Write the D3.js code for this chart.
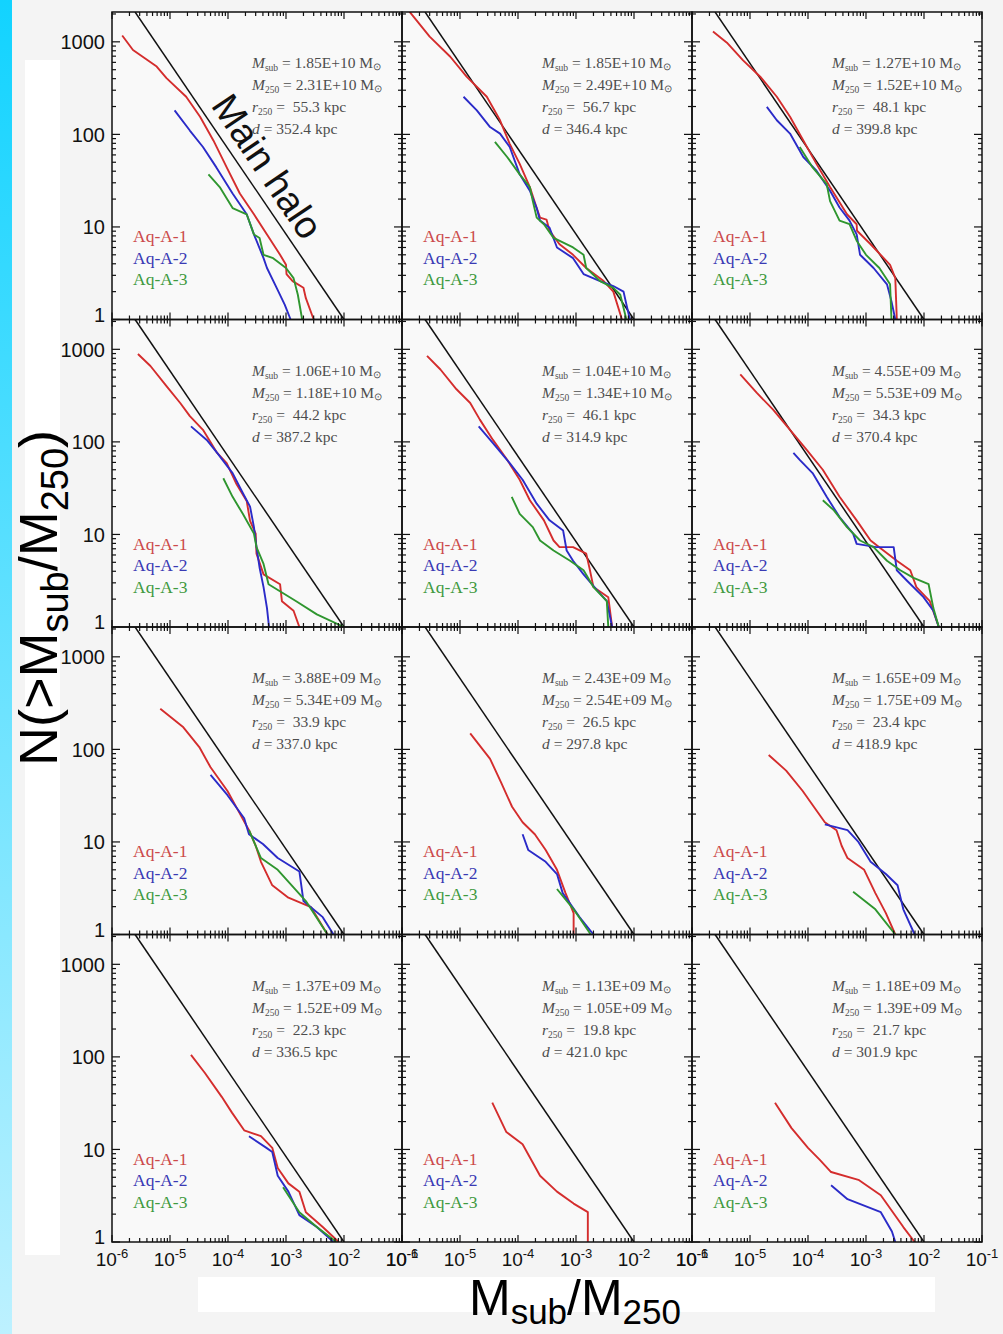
<!DOCTYPE html>
<html>
<head>
<meta charset="utf-8">
<script src="https://cdn.jsdelivr.net/npm/d3@7"></script>
<style>
  body { margin: 0; background: #f4f4f4; }
  svg { display: block; }
  text { white-space: pre; }
</style>
</head>
<body>
<svg id="chart" width="1003" height="1334"></svg>
<script>
// Cumulative subhalo mass functions N(>Msub/M250) of twelve subhaloes,
// at three resolution levels, with the main-halo relation for reference.

const msubLabels = ["1.85E+10","1.85E+10","1.27E+10","1.06E+10","1.04E+10","4.55E+09",
                    "3.88E+09","2.43E+09","1.65E+09","1.37E+09","1.13E+09","1.18E+09"];
const m250Labels = ["2.31E+10","2.49E+10","1.52E+10","1.18E+10","1.34E+10","5.53E+09",
                    "5.34E+09","2.54E+09","1.75E+09","1.52E+09","1.05E+09","1.39E+09"];
const r250Labels = ["55.3","56.7","48.1","44.2","46.1","34.3","33.9","26.5","23.4","22.3","19.8","21.7"];
const distLabels = ["352.4","346.4","399.8","387.2","314.9","370.4","337.0","297.8","418.9","336.5","421.0","301.9"];

const seriesNames = ["Aq-A-1", "Aq-A-2", "Aq-A-3"];

const xTickValues = [1e-6, 1e-5, 1e-4, 1e-3, 1e-2, 1e-1];
const xTickExponents = ["-6", "-5", "-4", "-3", "-2", "-1"];
const yTickValues = [1, 10, 100, 1000];

// main halo: N(>Msub/M250) power law
const mainHalo = [[2.5e-6, 2100], [1.0e-2, 1]];

// [Msub/M250, N] per panel, Aq-A-1
const aqA1 = [
  [[1.5e-6,1170],[2.3e-6,815],[5.9e-6,540],[8.7e-6,405],[1.9e-5,255],[3.3e-5,155],[5.6e-5,86],[9.5e-5,44],[1.6e-4,23],[2.8e-4,13.7],[4.7e-4,8.3],[7.9e-4,5.0],[1.0e-3,3.9],[1.02e-3,3.1],[1.3e-3,2.6],[2.0e-3,2.2],[2.2e-3,1.7],[3.0e-3,1]],
  [[1.25e-6,2300],[1.4e-6,2050],[3.0e-6,1140],[6.8e-6,690],[1.3e-5,420],[2.9e-5,255],[4.9e-5,142],[7.2e-5,79],[1.07e-4,48],[1.6e-4,27],[2.1e-4,16],[2.4e-4,12.6],[3.1e-4,12],[3.5e-4,9.1],[5.2e-4,6.5],[8.9e-4,5.0],[1.5e-3,3.6],[3.0e-3,2.6],[4.4e-3,2.0],[6.2e-3,1]],
  [[2.3e-6,1290],[4.0e-6,980],[7.6e-6,630],[1.5e-5,420],[2.9e-5,255],[4.9e-5,155],[8.3e-5,86],[1.4e-4,48],[2.4e-4,27],[4.7e-4,13.7],[6.9e-4,10.7],[7.0e-4,9.1],[1.2e-3,6.5],[2.6e-3,3.9],[3.2e-3,2.8],[3.4e-3,1]],
  [[2.8e-6,890],[4.6e-6,660],[8.7e-6,400],[1.5e-5,263],[2.2e-5,190],[3.7e-5,135],[6.5e-5,76],[9.5e-5,59],[1.4e-4,35],[2.1e-4,23],[2.4e-4,14],[3.0e-4,10.2],[3.1e-4,6.2],[4.1e-4,3.7],[7.9e-4,2.9],[8.5e-4,1.9],[1.35e-3,1.5],[1.7e-3,1]],
  [[2.7e-6,850],[4.6e-6,605],[8.7e-6,370],[1.5e-5,263],[2.2e-5,174],[3.7e-5,105],[6.5e-5,64],[1.07e-4,39],[1.6e-4,23.4],[2.8e-4,14.2],[4.1e-4,8.6],[5.2e-4,7.3],[8.9e-4,7.3],[1.5e-3,6.2],[1.7e-3,4.4],[2.0e-3,2.7],[3.6e-3,2.1],[4.2e-3,1]],
  [[6.8e-6,535],[1.3e-5,340],[2.5e-5,223],[4.9e-5,135],[9.5e-5,82],[1.8e-4,50],[3.5e-4,25.5],[6.9e-4,14.2],[1.2e-3,8.6],[2.0e-3,6.7],[3.4e-3,5.2],[5.8e-3,4.1],[7.4e-3,2.7],[1.26e-2,1.9],[1.8e-2,1]],
  [[6.8e-6,275],[1.7e-5,173],[3.2e-5,106],[5.0e-5,64],[9.8e-5,35.5],[1.5e-4,21.8],[2.3e-4,13.4],[3.0e-4,9.1],[3.7e-4,6.1],[5.8e-4,3.4],[1.1e-3,2.5],[2.7e-3,1.97],[5.2e-3,1]],
  [[1.5e-5,149],[3.3e-5,79],[5.1e-5,44],[7.9e-5,24],[1.2e-4,16.3],[1.95e-4,12.1],[3.0e-4,8.2],[4.7e-4,5.0],[6.6e-4,2.8],[9.1e-4,1.7],[9.1e-4,1]],
  [[2.1e-5,87],[4.2e-5,59],[8.1e-5,35.5],[1.26e-4,24],[1.95e-4,16.3],[3.1e-4,13.4],[3.8e-4,9.1],[4.8e-4,6.7],[9.3e-4,5.0],[1.45e-3,2.8],[2.2e-3,1.7],[3.2e-3,1]],
  [[2.3e-5,105],[4.0e-5,67],[7.8e-5,37],[1.17e-4,25],[1.9e-4,16.1],[3.7e-4,13.9],[5.8e-4,10.4],[7.2e-4,6.3],[1.1e-3,4.3],[1.7e-3,3.5],[2.2e-3,2.1],[4.3e-3,1.45],[8.1e-3,1]],
  [[3.6e-5,32],[6.3e-5,15.4],[1.2e-4,11.4],[2.4e-4,5.2],[4.7e-4,3.5],[9.1e-4,2.6],[1.6e-3,2.1],[1.6e-3,1]],
  [[2.7e-5,32],[5.2e-5,17],[1.0e-4,10.4],[1.6e-4,7.7],[2.5e-4,5.7],[7.4e-4,4.7],[1.8e-3,3.2],[4.4e-3,1.45],[6.9e-3,1]]
];

// Aq-A-2
const aqA2 = [
  [[1.2e-5,182],[2.2e-5,110],[3.7e-5,73],[6.3e-5,44],[1.2e-4,23],[2.1e-4,13.7],[2.8e-4,8.3],[4.1e-4,4.6],[4.7e-4,3.6],[6.9e-4,2.2],[9.5e-4,1.45],[1.2e-3,1]],
  [[1.15e-5,255],[1.95e-5,182],[3.3e-5,120],[4.9e-5,102],[7.2e-5,73],[1.07e-4,37],[1.6e-4,24.6],[2.1e-4,16],[2.4e-4,11.7],[3.5e-4,9.8],[4.7e-4,6.0],[8.9e-4,4.6],[1.35e-3,3.1],[2.6e-3,2.6],[4.4e-3,2.3],[6.6e-3,2.0],[7.4e-3,1.45],[8.5e-3,1]],
  [[1.95e-5,198],[2.9e-5,142],[4.9e-5,102],[8.3e-5,57],[1.4e-4,40.5],[2.4e-4,24.6],[3.5e-4,16.2],[5.2e-4,11.7],[6.9e-4,8.3],[7.9e-4,5.0],[1.35e-3,3.6],[2.3e-3,2.4],[2.75e-3,1.57],[3.2e-3,1]],
  [[2.3e-5,147],[4.3e-5,105],[6.5e-5,76],[1.2e-4,46],[1.8e-4,28],[2.4e-4,20],[2.8e-4,12],[3.1e-4,7.3],[3.5e-4,4.4],[4.1e-4,2.7],[4.7e-4,1.6],[5.1e-4,1]],
  [[2.1e-5,147],[3.7e-5,97],[7.2e-5,59],[1.2e-4,39],[2.1e-4,21.5],[3.5e-4,14.2],[6.0e-4,11],[6.9e-4,6.7],[8.9e-4,5.2],[1.35e-3,3.7],[2.3e-3,2.5],[3.4e-3,1.9],[4.2e-3,1]],
  [[5.6e-5,76],[7.2e-5,64],[1.2e-4,46],[2.1e-4,25.5],[3.5e-4,15.4],[6.0e-4,10.2],[6.9e-4,7.9],[1.5e-3,7.3],[3.0e-3,7.3],[3.4e-3,4.1],[5.0e-3,3.2],[9.8e-3,2.1],[1.45e-2,1.5],[1.8e-2,1]],
  [[5.0e-5,53],[9.8e-5,32],[1.9e-4,18],[2.3e-4,12.1],[4.0e-4,9.5],[7.2e-4,6.7],[1.7e-3,4.8],[2.0e-3,2.3],[4.3e-3,1.54],[6.6e-3,1]],
  [[1.2e-4,12.1],[1.5e-4,8.2],[3.0e-4,6.1],[4.7e-4,4.5],[5.9e-4,2.8],[1.15e-3,1.54],[2.0e-3,1]],
  [[1.95e-4,15.5],[4.8e-4,13.4],[7.4e-4,10],[1.2e-3,6.1],[2.2e-3,4.5],[3.5e-3,3.4],[4.4e-3,1.87],[6.9e-3,1]],
  [[2.3e-4,13.9],[4.6e-4,10.4],[5.8e-4,9.4],[7.2e-4,5.2],[1.1e-3,3.5],[1.7e-3,1.95],[3.4e-3,1.45],[6.6e-3,1]],
  [],
  [[2.5e-4,4.1],[4.8e-4,2.9],[1.8e-3,2.1],[2.8e-3,1.3],[3.2e-3,1]]
];

// Aq-A-3
const aqA3 = [
  [[4.6e-5,37],[7.2e-5,27],[1.2e-4,16],[2.1e-4,13.7],[2.8e-4,8.3],[3.5e-4,7.6],[4.1e-4,5.0],[6.0e-4,4.6],[1.0e-3,3.6],[1.35e-3,2.8],[1.6e-3,1.85],[1.9e-3,1]],
  [[4.0e-5,83],[6.5e-5,57],[1.07e-4,37],[1.6e-4,27],[1.8e-4,19],[2.1e-4,12.6],[2.8e-4,10.7],[4.1e-4,7.6],[8.9e-4,6.0],[1.35e-3,5.0],[1.5e-3,3.6],[2.6e-3,2.6],[4.4e-3,2.2],[5.8e-3,1.85],[7.4e-3,1]],
  [[7.2e-5,73],[1.2e-4,44],[2.1e-4,29],[2.4e-4,19],[3.5e-4,11.7],[5.2e-4,10.7],[6.9e-4,7.1],[1.0e-3,5.0],[1.7e-3,3.6],[2.6e-3,2.4],[2.75e-3,1]],
  [[8.3e-5,40.5],[1.2e-4,25.5],[1.8e-4,16.7],[2.8e-4,10.2],[3.1e-4,7.3],[4.1e-4,4.8],[5.0e-4,2.9],[1.5e-3,1.9],[3.4e-3,1.37],[1.0e-2,1]],
  [[7.8e-5,25.5],[1.07e-4,16.7],[1.8e-4,12],[2.4e-4,8.6],[4.1e-4,6.7],[7.9e-4,5.2],[1.35e-3,4.1],[2.0e-3,2.7],[3.4e-3,1.9],[3.6e-3,1]],
  [[1.8e-4,23.4],[2.8e-4,18.2],[4.7e-4,12],[7.9e-4,8.6],[1.35e-3,7.3],[2.3e-3,5.2],[3.9e-3,4.1],[6.6e-3,3.4],[1.2e-2,2.9],[1.45e-2,1.6],[1.8e-2,1]],
  [[2.3e-4,13.4],[3.7e-4,6.7],[7.2e-4,5.0],[2.2e-3,2.3],[5.2e-3,1]],
  [[4.7e-4,3.1],[9.1e-4,1.87],[1.8e-3,1]],
  [[6.0e-4,2.9],[1.45e-3,1.87],[3.2e-3,1]],
  [[8.9e-4,3.9],[1.7e-3,2.1],[3.4e-3,1.45],[7.4e-3,1]],
  [],
  []
];

// ---- drawing ----
const W = 1003, H = 1334;
const panelW = 290, panelH = 307.5, left0 = 112, top0 = 12;
const nCols = 3, nRows = 4;
const lineColors = ["#d42d2d", "#2b2bc8", "#2f962f"];
const legendColors = ["#cc4a4a", "#3a3ab4", "#3f9a3f"];
const serif = "'Liberation Serif', 'Times New Roman', serif";
const sans = "'Liberation Sans', Arial, Helvetica, sans-serif";

const svg = d3.select("#chart");
const defs = svg.append("defs");

const grad = defs.append("linearGradient").attr("id", "edgeStrip")
  .attr("x1", 0).attr("y1", 0).attr("x2", 0).attr("y2", 1);
grad.append("stop").attr("offset", "0%").attr("stop-color", "#12d3ff");
grad.append("stop").attr("offset", "100%").attr("stop-color", "#bdf1ff");

svg.append("rect").attr("width", W).attr("height", H).attr("fill", "#f4f4f4");
svg.append("rect").attr("x", 0).attr("y", 0).attr("width", 12).attr("height", H).attr("fill", "url(#edgeStrip)");
svg.append("rect").attr("x", 25).attr("y", 60).attr("width", 35).attr("height", 1195).attr("fill", "#ffffff");
svg.append("rect").attr("x", 198).attr("y", 1277).attr("width", 737).attr("height", 35).attr("fill", "#ffffff");

const x = d3.scaleLog().domain([1e-6, 1e-1]).range([0, panelW]);
const y = d3.scaleLog().domain([1, 2100]).range([panelH, 0]);
const line = d3.line().x(d => x(d[0])).y(d => y(d[1]));

defs.append("clipPath").attr("id", "panelClip")
  .append("rect").attr("width", panelW).attr("height", panelH);

const panels = d3.range(nRows * nCols).map(i => ({
  i, row: Math.floor(i / nCols), col: i % nCols,
  tx: left0 + (i % nCols) * panelW, ty: top0 + Math.floor(i / nCols) * panelH
}));

// backgrounds first so neighbouring ticks stay visible
svg.selectAll("rect.bg").data(panels).join("rect")
  .attr("class", "bg")
  .attr("x", d => d.tx).attr("y", d => d.ty)
  .attr("width", panelW).attr("height", panelH)
  .attr("fill", "#f9f9f9");

const isDecade = v => Math.abs(Math.log10(v) - Math.round(Math.log10(v))) < 1e-9;
const majorLen = 7, minorLen = 4;

panels.forEach(p => {
  const g = svg.append("g").attr("transform", `translate(${p.tx},${p.ty})`);
  const plot = g.append("g").attr("clip-path", "url(#panelClip)");

  plot.append("path").datum(mainHalo)
    .attr("d", line).attr("fill", "none")
    .attr("stroke", "#111").attr("stroke-width", 1.5);

  [aqA1, aqA2, aqA3].forEach((series, s) => {
    const pts = series[p.i];
    if (!pts.length) return;
    plot.append("path").datum(pts)
      .attr("d", line).attr("fill", "none")
      .attr("stroke", lineColors[s]).attr("stroke-width", 1.9)
      .attr("stroke-linejoin", "round");
  });

  // inward ticks on all four sides
  const tk = g.append("g").attr("stroke", "#111").attr("stroke-width", 1.2);
  x.ticks().forEach(v => {
    const px = x(v), len = isDecade(v) ? majorLen : minorLen;
    tk.append("line").attr("x1", px).attr("x2", px).attr("y1", panelH).attr("y2", panelH - len);
    tk.append("line").attr("x1", px).attr("x2", px).attr("y1", 0).attr("y2", len);
  });
  y.ticks().forEach(v => {
    const py = y(v), len = isDecade(v) ? majorLen + 1 : minorLen;
    tk.append("line").attr("y1", py).attr("y2", py).attr("x1", 0).attr("x2", len);
    tk.append("line").attr("y1", py).attr("y2", py).attr("x1", panelW).attr("x2", panelW - len);
  });

  g.append("rect").attr("width", panelW).attr("height", panelH)
    .attr("fill", "none").attr("stroke", "#111").attr("stroke-width", 1.5);

  // halo properties
  const info = g.append("g").attr("font-family", serif).attr("fill", "#4d4d4d").attr("font-size", 15.5);
  const infoX = 140, infoY = [56, 78, 100, 122];
  const addLine = (yy, sym, sub, rest, sun) => {
    const t = info.append("text").attr("x", infoX).attr("y", yy);
    t.append("tspan").attr("font-style", "italic").text(sym);
    if (sub) {
      t.append("tspan").attr("font-size", 9.5).attr("dy", 3).text(sub);
      t.append("tspan").attr("dy", -3).text(rest);
    } else {
      t.append("tspan").text(rest);
    }
    if (sun) t.append("tspan").attr("font-size", 10).attr("dy", 2).text("\u2299");
  };
  addLine(infoY[0], "M", "sub", ` = ${msubLabels[p.i]} M`, true);
  addLine(infoY[1], "M", "250", ` = ${m250Labels[p.i]} M`, true);
  addLine(infoY[2], "r", "250", ` =  ${r250Labels[p.i]} kpc`, false);
  addLine(infoY[3], "d", null, ` = ${distLabels[p.i]} kpc`, false);

  // legend
  seriesNames.forEach((name, s) => {
    g.append("text").attr("x", 21).attr("y", 230 + s * 21.5)
      .attr("font-family", serif).attr("font-size", 17.5)
      .attr("fill", legendColors[s]).text(name);
  });

  // y tick labels on the first column
  if (p.col === 0) {
    yTickValues.forEach(v => {
      g.append("text").attr("x", -7).attr("y", y(v) + (v === 1 ? -5 : 0))
        .attr("dy", "0.36em").attr("text-anchor", "end")
        .attr("font-family", sans).attr("font-size", 20).attr("fill", "#111")
        .text(String(v));
    });
  }
  // x tick labels on the bottom row
  if (p.row === nRows - 1) {
    xTickValues.forEach((v, k) => {
      const t = g.append("text").attr("x", x(v)).attr("y", panelH + 24)
        .attr("text-anchor", "middle")
        .attr("font-family", sans).attr("font-size", 19).attr("fill", "#111");
      t.append("tspan").text("10");
      t.append("tspan").attr("font-size", 13).attr("dy", -8).text(xTickExponents[k]);
    });
  }

  // label along the main-halo line in the first panel
  if (p.i === 0) {
    const a = [x(mainHalo[0][0]), y(mainHalo[0][1])];
    const b = [x(mainHalo[1][0]), y(mainHalo[1][1])];
    const ang = Math.atan2(b[1] - a[1], b[0] - a[0]);
    const px = x(3.1e-4);
    const py = a[1] + (px - a[0]) * Math.tan(ang) - 17;
    g.append("text")
      .attr("transform", `translate(${px},${py}) rotate(${ang * 180 / Math.PI})`)
      .attr("text-anchor", "middle")
      .attr("font-family", sans).attr("font-size", 38).attr("fill", "#111")
      .text("Main halo");
  }
});

// axis titles
const yTitle = svg.append("text")
  .attr("transform", "translate(57,598) rotate(-90)")
  .attr("text-anchor", "middle")
  .attr("font-family", sans).attr("font-size", 54).attr("fill", "#000");
yTitle.append("tspan").text("N(>M");
yTitle.append("tspan").attr("font-size", 38).attr("dy", 11).text("sub");
yTitle.append("tspan").attr("dy", -11).text("/M");
yTitle.append("tspan").attr("font-size", 38).attr("dy", 11).text("250");
yTitle.append("tspan").attr("dy", -11).text(")");

const xTitle = svg.append("text")
  .attr("x", 575).attr("y", 1315)
  .attr("text-anchor", "middle")
  .attr("font-family", sans).attr("font-size", 50).attr("fill", "#000");
xTitle.append("tspan").text("M");
xTitle.append("tspan").attr("font-size", 35).attr("dy", 9).text("sub");
xTitle.append("tspan").attr("dy", -9).text("/M");
xTitle.append("tspan").attr("font-size", 35).attr("dy", 9).text("250");
</script>
</body>
</html>
